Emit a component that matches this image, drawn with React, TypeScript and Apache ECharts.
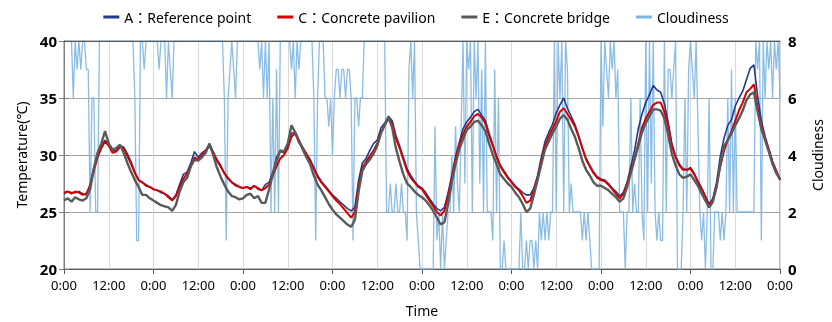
import React, { useEffect, useRef } from "react";
import * as echarts from "echarts";

// Time axis: hours since start (8 days), labels every 12 h
const timeLabels = ["0:00", "12:00"];
const seriesNames = ["A：Reference point", "C：Concrete pavilion", "E：Concrete bridge", "Cloudiness"];

// Hourly temperatures (°C), t = 0..192 h
const tempA = [
  26.6, 26.8, 26.7, 26.7, 26.8, 26.6, 26.5, 27.4, 28.9, 30.0, 30.8, 31.3, 30.9, 30.4, 30.4, 30.8, 30.7, 30.1, 29.4, 28.5, 27.8, 27.6, 27.4, 27.2,
  27.0, 26.9, 26.7, 26.6, 26.4, 26.1, 26.5, 27.4, 28.3, 28.5, 29.3, 30.3, 29.8, 30.2, 30.4, 31.0, 30.3, 29.6, 29.1, 28.4, 27.9, 27.6, 27.3, 27.2,
  27.1, 27.2, 27.1, 27.3, 27.0, 26.9, 27.4, 27.6, 28.5, 29.8, 30.3, 30.2, 30.9, 31.9, 32.0, 31.2, 30.7, 30.1, 29.6, 28.9, 28.2, 27.7, 27.3, 26.9,
  26.5, 26.2, 25.9, 25.6, 25.3, 25.1, 25.4, 27.8, 29.3, 29.7, 30.4, 31.0, 31.3, 32.4, 32.8, 33.4, 33.0, 31.7, 30.8, 29.8, 28.8, 28.2, 27.7, 27.3,
  27.1, 26.7, 26.2, 25.7, 25.3, 25.1, 25.4, 26.7, 28.2, 29.9, 31.1, 32.3, 32.9, 33.3, 33.8, 34.0, 33.5, 33.0, 31.9, 30.9, 29.9, 29.1, 28.6, 28.1,
  27.7, 27.3, 27.0, 26.7, 26.5, 26.5, 27.1, 28.2, 29.8, 31.2, 32.0, 32.7, 33.7, 34.4, 35.0, 34.1, 33.4, 32.7, 31.7, 30.6, 29.7, 29.1, 28.5, 28.1,
  27.9, 27.8, 27.5, 27.1, 26.8, 26.4, 26.7, 27.6, 29.0, 30.4, 32.3, 33.6, 34.6, 35.3, 36.1, 35.7, 35.5, 34.5, 32.9, 31.0, 29.9, 29.2, 28.8, 28.7,
  28.9, 28.4, 27.7, 27.1, 26.4, 25.7, 26.2, 27.6, 29.9, 31.5, 32.6, 33.1, 34.3, 35.0, 35.6, 36.6, 37.6, 37.9, 35.2, 33.0, 31.6, 30.5, 29.4, 28.6, 27.9,
];
const tempC = [
  26.7, 26.8, 26.6, 26.8, 26.7, 26.5, 26.6, 27.3, 28.6, 29.8, 30.6, 31.2, 30.8, 30.2, 30.3, 30.7, 30.6, 29.9, 29.2, 28.4, 27.8, 27.6, 27.3, 27.2,
  27.0, 26.9, 26.8, 26.6, 26.3, 26.0, 26.4, 27.2, 27.9, 28.4, 29.0, 29.8, 29.6, 30.0, 30.4, 30.8, 30.2, 29.5, 29.0, 28.4, 28.0, 27.6, 27.4, 27.2,
  27.1, 27.2, 27.0, 27.3, 27.1, 26.9, 27.1, 27.4, 28.2, 29.0, 29.7, 30.0, 30.6, 31.6, 31.9, 31.1, 30.6, 30.1, 29.5, 28.8, 28.1, 27.6, 27.2, 26.8,
  26.4, 26.0, 25.7, 25.3, 24.9, 24.5, 25.0, 27.3, 28.9, 29.4, 29.9, 30.4, 31.0, 32.0, 32.6, 33.2, 32.8, 31.5, 30.6, 29.6, 28.6, 28.0, 27.6, 27.2,
  27.0, 26.5, 26.0, 25.5, 25.0, 24.7, 25.1, 26.4, 28.0, 29.6, 30.9, 31.8, 32.5, 32.9, 33.4, 33.6, 33.3, 32.8, 31.7, 30.8, 29.8, 29.0, 28.5, 28.0,
  27.6, 27.2, 26.9, 26.4, 25.8, 26.0, 26.9, 28.0, 29.5, 30.8, 31.6, 32.3, 33.0, 33.8, 34.1, 33.6, 33.1, 32.5, 31.6, 30.6, 29.6, 29.0, 28.4, 28.0,
  27.8, 27.7, 27.4, 27.0, 26.6, 26.2, 26.6, 27.5, 28.6, 29.7, 31.0, 32.4, 33.2, 33.8, 34.4, 34.6, 34.6, 33.8, 32.6, 30.8, 29.8, 29.1, 28.7, 28.7,
  28.8, 28.3, 27.6, 27.0, 26.3, 25.6, 26.0, 27.4, 29.0, 30.4, 31.3, 32.1, 33.0, 33.9, 34.6, 35.5, 35.8, 36.2, 34.2, 32.6, 31.5, 30.5, 29.4, 28.6, 27.8,
];
const tempE = [
  26.0, 26.2, 25.9, 26.3, 26.1, 26.0, 26.2, 27.0, 28.8, 30.2, 31.0, 32.1, 31.0, 30.5, 30.6, 30.9, 30.2, 29.3, 28.5, 27.8, 27.2, 26.5, 26.5, 26.2,
  26.0, 25.8, 25.6, 25.5, 25.4, 25.1, 25.6, 26.8, 27.6, 28.0, 29.0, 29.6, 29.5, 29.8, 30.2, 31.0, 30.0, 28.9, 28.1, 27.4, 26.8, 26.4, 26.3, 26.1,
  26.2, 26.5, 26.6, 26.2, 26.4, 25.8, 25.8, 27.0, 28.3, 29.5, 30.4, 30.3, 31.0, 32.6, 32.0, 31.3, 30.5, 29.8, 29.2, 28.2, 27.4, 26.9, 26.3, 25.7,
  25.2, 24.8, 24.5, 24.2, 23.9, 23.7, 24.3, 26.8, 28.6, 29.2, 29.6, 30.1, 30.8, 31.9, 32.6, 33.3, 32.4, 30.6, 29.4, 28.3, 27.5, 27.2, 26.8, 26.5,
  26.3, 26.0, 25.6, 25.1, 24.5, 23.9, 24.1, 25.7, 27.6, 29.2, 30.5, 31.4, 32.2, 32.5, 32.9, 33.0, 32.6, 32.1, 31.0, 30.0, 29.2, 28.3, 27.9, 27.5,
  27.2, 26.7, 26.3, 25.7, 25.0, 25.3, 26.5, 27.8, 29.2, 30.5, 31.2, 31.9, 32.5, 33.2, 33.5, 33.1, 32.3, 31.6, 30.6, 29.5, 28.7, 28.2, 27.6, 27.3,
  27.3, 27.1, 26.9, 26.6, 26.3, 25.9, 26.2, 27.2, 28.4, 29.6, 30.8, 32.0, 32.8, 33.4, 34.0, 34.0, 33.9, 33.2, 31.8, 30.1, 29.1, 28.3, 28.0, 28.1,
  28.3, 27.8, 27.3, 26.6, 26.0, 25.4, 25.9, 27.2, 29.2, 30.8, 31.3, 31.9, 32.6, 33.2, 33.9, 34.8, 35.3, 35.5, 33.8, 32.3, 31.3, 30.3, 29.2, 28.4, 27.9,
];

// Cloudiness (oktas), every 0.5 h, t = 0..192 h
const cloudiness = [
  8, 8, 8, 8, 8, 6, 8, 7, 8, 7, 8, 8, 7, 7, 2, 6, 6, 2, 2, 8, 8, 8, 8, 8, 8, 8, 8, 8, 8, 8, 8, 8, 8, 8, 8, 8, 8, 8, 6, 1, 1, 8, 8, 7, 8, 8, 8, 8,
  8, 8, 8, 7, 8, 8, 8, 6, 8, 7, 6, 8, 8, 8, 8, 8, 8, 8, 8, 8, 8, 8, 8, 8, 8, 8, 8, 8, 8, 8, 8, 8, 8, 8, 8, 8, 8, 8, 6, 1, 6, 7, 8, 7, 6, 8, 8, 8,
  8, 8, 8, 8, 8, 8, 8, 8, 8, 7, 8, 6, 8, 6, 8, 2, 6, 2, 7, 2, 8, 8, 8, 8, 8, 8, 7, 8, 6, 8, 7, 8, 8, 8, 8, 8, 8, 8, 6, 1, 6, 8, 8, 8, 6, 6, 5, 6,
  4, 6, 7, 7, 6, 7, 7, 6, 7, 7, 6, 1, 6, 6, 5, 6, 6, 8, 8, 8, 8, 8, 8, 8, 8, 8, 8, 8, 8, 2, 2, 3, 2, 2, 3, 2, 2, 3, 2, 2, 1, 7, 8, 6, 8, 2, 1, 0,
  0, 0, 0, 0, 0, 0, 0, 5, 1, 2, 0, 2, 0, 1, 2, 2, 4, 2, 5, 3, 2, 5, 8, 3, 8, 7, 8, 2, 8, 6, 8, 3, 7, 2, 8, 2, 2, 2, 1, 7, 2, 6, 0, 0, 1, 0, 0, 0,
  0, 0, 0, 0, 0, 2, 0, 0, 1, 0, 1, 1, 0, 1, 0, 2, 1, 2, 1, 2, 1, 2, 2, 8, 2, 8, 6, 8, 2, 8, 7, 2, 3, 2, 2, 2, 2, 2, 1, 2, 1, 2, 1, 0, 0, 0, 0, 0,
  8, 5, 8, 7, 6, 8, 7, 8, 6, 7, 2, 2, 2, 0, 2, 2, 6, 2, 3, 2, 2, 6, 2, 1, 8, 2, 8, 3, 8, 2, 1, 2, 1, 1, 8, 2, 7, 7, 6, 7, 8, 0, 0, 0, 2, 6, 2, 7,
  8, 7, 6, 8, 5, 2, 1, 2, 0, 2, 6, 0, 0, 2, 2, 2, 1, 2, 1, 2, 6, 2, 7, 2, 6, 2, 2, 2, 2, 2, 2, 2, 2, 2, 2, 8, 7, 8, 1, 8, 6, 8, 7, 8, 6, 8, 7, 8, 6,
];

const colors = ["#1f3c88", "#d40000", "#5a5a5a", "#7db5e2"];
const FONT = "'Noto Sans', 'Noto Sans CJK KR', sans-serif";

export default function App() {
  const ref = useRef<HTMLDivElement>(null);
  useEffect(() => {
    if (!ref.current) return;
    const chart = echarts.init(ref.current, undefined, { renderer: "svg" });
    const hourly = (arr: number[]) => arr.map((v, i) => [i, v]);
    const axisText = { color: "#000", fontSize: 14, fontFamily: FONT };
    chart.setOption({
      animation: false,
      textStyle: { fontFamily: FONT },
      legend: {
        top: 5,
        left: "center",
        icon: "rect",
        itemWidth: 16,
        itemHeight: 3,
        itemGap: 26,
        textStyle: { color: "#000", fontSize: 14, fontFamily: FONT },
        data: seriesNames,
      },
      grid: { left: 64, right: 45, top: 41, bottom: 50, show: true, borderColor: "#7f7f7f", borderWidth: 1 },
      xAxis: [
        {
          type: "value",
          min: 0,
          max: 192,
          interval: 12,
          position: "bottom",
          axisLine: { show: true, lineStyle: { color: "#595959" } },
          axisTick: { show: false },
          axisLabel: {
            ...axisText,
            fontSize: 13,
            margin: 9,
            formatter: (v: number) => timeLabels[Math.round(v / 12) % 2],
          },
          splitLine: { show: true, lineStyle: { color: "#d9d9d9" } },
          name: "Time",
          nameLocation: "middle",
          nameGap: 34,
          nameTextStyle: { ...axisText },
        },
        {
          type: "value",
          min: 0,
          max: 192,
          interval: 24,
          position: "bottom",
          axisLine: { show: false },
          axisTick: { show: true, length: 5, lineStyle: { color: "#595959" } },
          axisLabel: { show: false },
          splitLine: { show: false },
        },
        {
          type: "value",
          min: 0,
          max: 192,
          position: "top",
          z: 10,
          axisLine: { show: true, lineStyle: { color: "#595959" } },
          axisTick: { show: false },
          axisLabel: { show: false },
          splitLine: { show: false },
        },
      ],
      yAxis: [
        {
          type: "value",
          min: 20,
          max: 40,
          interval: 5,
          axisLine: { show: true, lineStyle: { color: "#7f7f7f" } },
          axisTick: { show: true, length: 5, lineStyle: { color: "#7f7f7f" } },
          axisLabel: { ...axisText, fontSize: 15, fontWeight: "bold", margin: 7 },
          splitLine: { show: true, lineStyle: { color: "#a6a6a6" } },
          name: "Temperature(℃)",
          nameLocation: "middle",
          nameRotate: 90,
          nameGap: 36,
          nameTextStyle: { ...axisText },
        },
        {
          type: "value",
          min: 0,
          max: 8,
          interval: 2,
          position: "right",
          axisLine: { show: true, lineStyle: { color: "#7f7f7f" } },
          axisTick: { show: true, length: 5, lineStyle: { color: "#7f7f7f" } },
          axisLabel: { ...axisText, fontSize: 15, fontWeight: "bold", margin: 8 },
          splitLine: { show: false },
          name: "Cloudiness",
          nameLocation: "middle",
          nameRotate: 90,
          nameGap: 30,
          nameTextStyle: { ...axisText },
        },
      ],
      series: [
        {
          name: seriesNames[3],
          type: "line",
          xAxisIndex: 0,
          yAxisIndex: 1,
          data: cloudiness.map((v, i) => [i / 2, v]),
          symbol: "none",
          color: colors[3],
          lineStyle: { color: colors[3], width: 1.3, opacity: 0.9 },
          z: 1,
        },
        {
          name: seriesNames[0],
          type: "line",
          data: hourly(tempA),
          symbol: "none",
          color: colors[0],
          lineStyle: { color: colors[0], width: 1.6 },
          z: 3,
        },
        {
          name: seriesNames[1],
          type: "line",
          data: hourly(tempC),
          symbol: "none",
          color: colors[1],
          lineStyle: { color: colors[1], width: 2 },
          z: 4,
        },
        {
          name: seriesNames[2],
          type: "line",
          data: hourly(tempE),
          symbol: "none",
          color: colors[2],
          lineStyle: { color: colors[2], width: 2.4 },
          z: 5,
        },
      ],
    });
    return () => chart.dispose();
  }, []);
  return <div ref={ref} style={{ position: "fixed", left: 0, top: 0, width: 832, height: 322 }} />;
}
